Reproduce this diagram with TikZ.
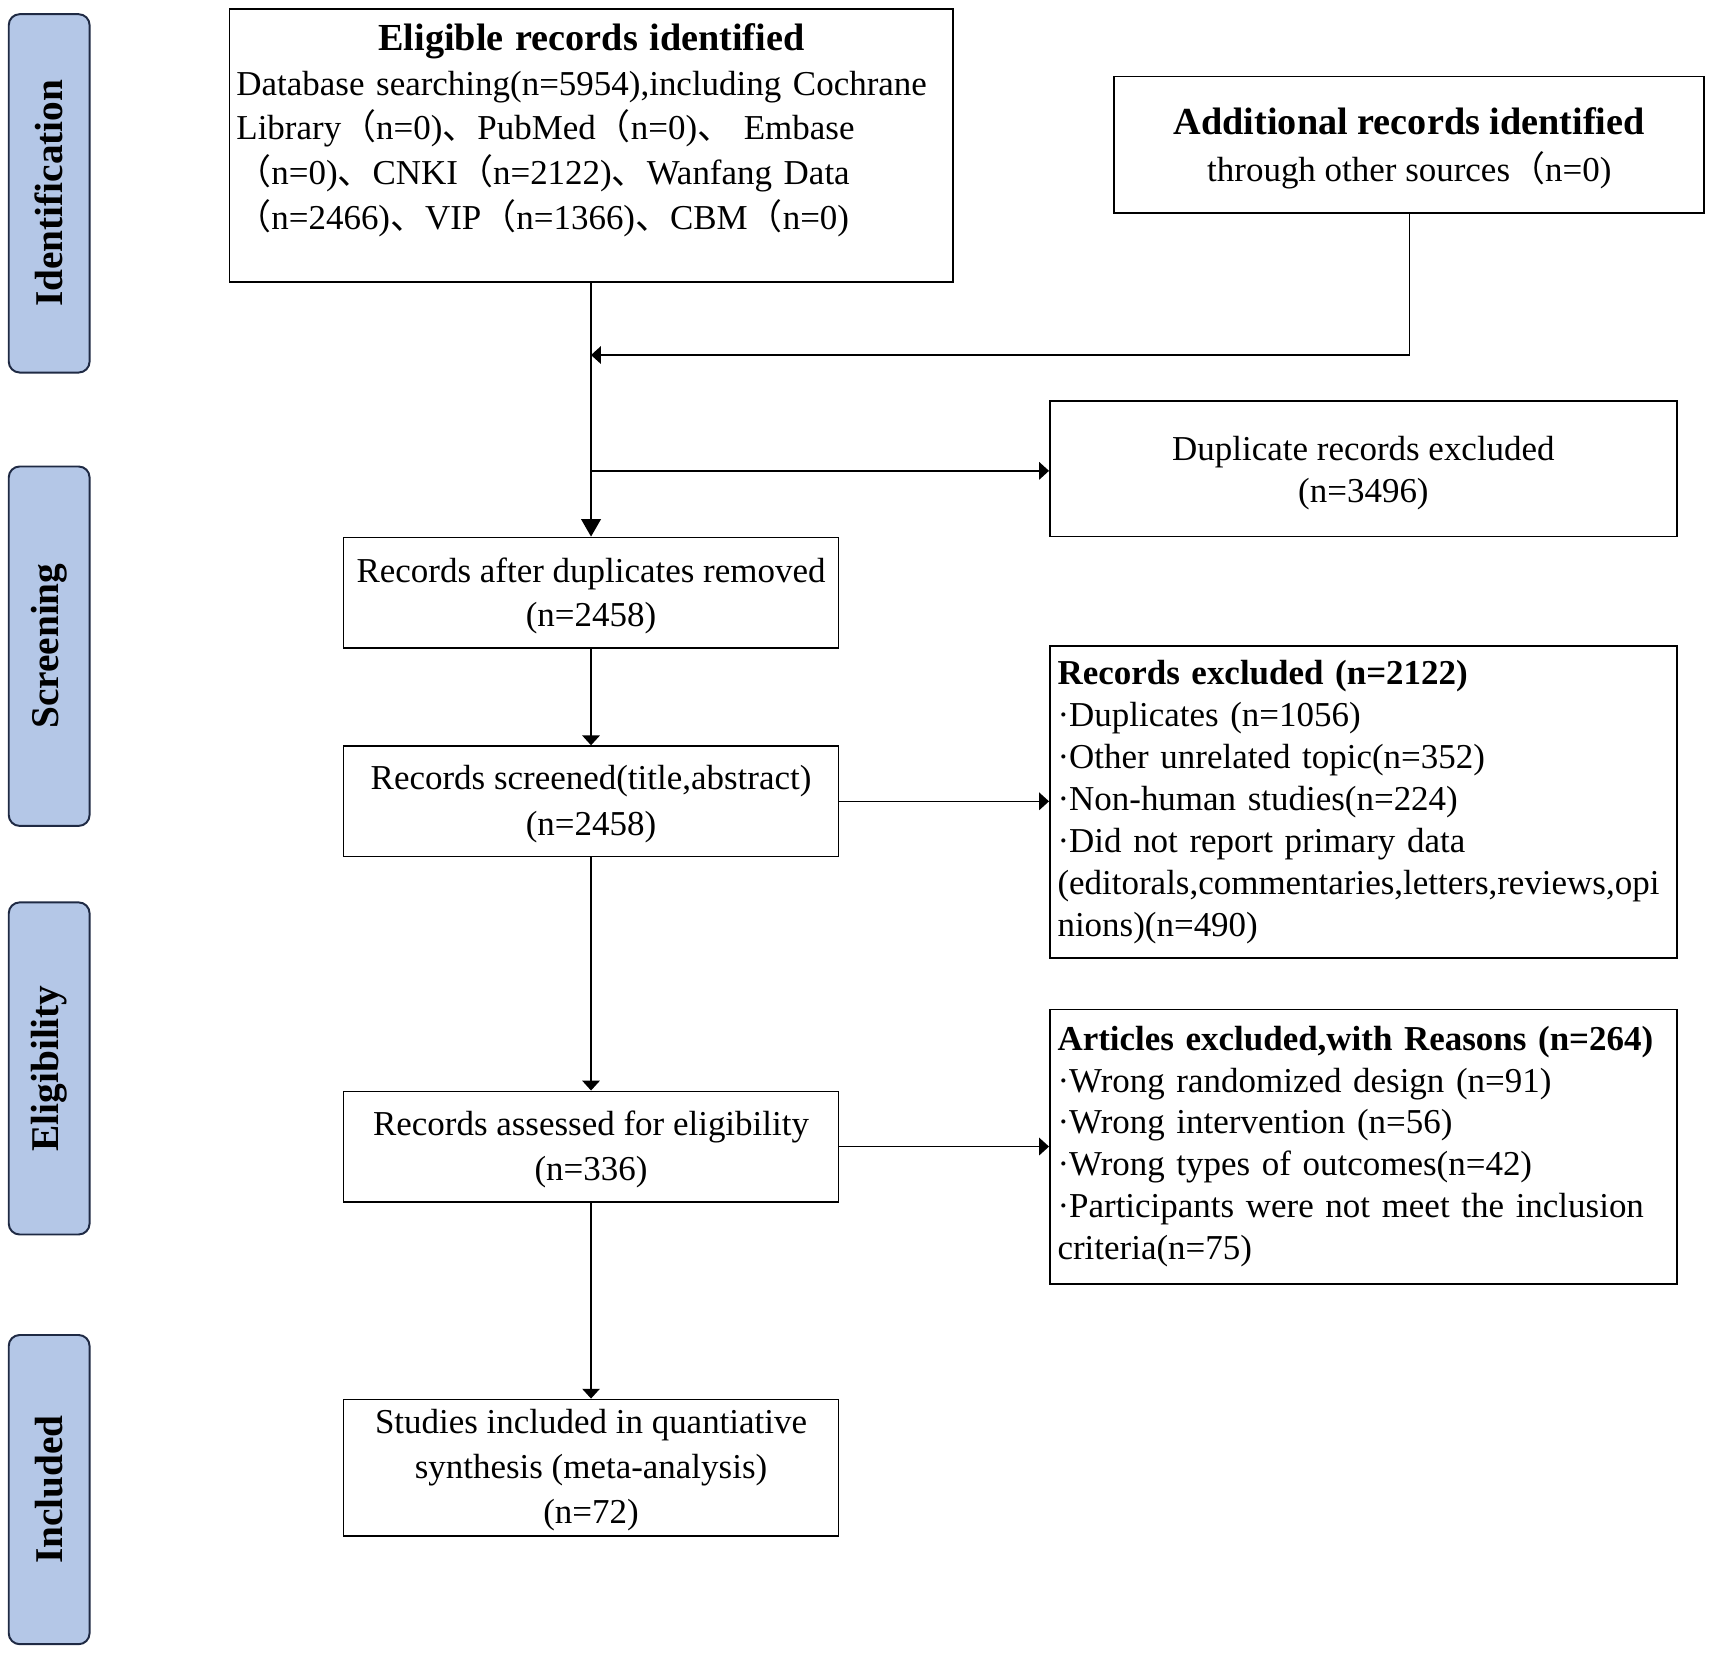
\documentclass[tikz,border=0pt]{standalone}
\usepackage{fontspec}
\setmainfont{Liberation Serif}
\newfontfamily\cjk{Noto Sans CJK SC}
\usetikzlibrary{arrows.meta}
\definecolor{stagefill}{HTML}{B4C7E7}
\definecolor{stageline}{HTML}{1F2A44}
\newcommand{\fwp}{{\cjk （}}
\newcommand{\ideo}{{\cjk 、}}
\newcommand{\titlefont}{\fontsize{17.5}{21}\selectfont\bfseries}
\newcommand{\lift}[1]{\rule{0pt}{#1}}
\begin{document}
\begin{tikzpicture}[x=0.5pt,y=-0.5pt,
  box/.style={draw=black, line width=0.8pt, inner sep=0pt, align=center},
  stage/.style={draw=stageline, fill=stagefill, rounded corners=5pt, line width=0.9pt,
    inner sep=0pt, rotate=90, font=\fontsize{18}{20}\selectfont\bfseries},
  arrow/.style={-{Triangle[length=4.5pt,width=8pt]}, line width=0.7pt}]
\useasboundingbox (0,0) rectangle (1568,1513);

% stage labels
\node[stage, minimum width=164pt, minimum height=37pt] (S1) at (45,177) {Identification};
\node[stage, minimum width=164.5pt, minimum height=37pt] (S2) at (45,591.5) {Screening};
\node[stage, minimum width=152pt, minimum height=37pt] (S3) at (45,978) {Eligibility};
\node[stage, minimum width=141.5pt, minimum height=37pt] (S4) at (45,1363.5) {Included};

% boxes
\node[box, minimum width=331pt, minimum height=125pt] (A) at (541,133) {};
\node[anchor=north west, inner sep=0pt, text width=325pt, align=left,
  font=\fontsize{16}{20.5}\selectfont] (Atext) at (216,21)
  {\makebox[\linewidth][c]{\titlefont Eligible records identified}\\
   Database searching(n=5954),including Cochrane\\
   Library\fwp n=0)\ideo PubMed\fwp n=0)\ideo{} Embase\\
   \fwp n=0)\ideo CNKI\fwp n=2122)\ideo Wanfang Data\\
   \fwp n=2466)\ideo VIP\fwp n=1366)\ideo CBM\fwp n=0)};

\node[box, minimum width=270pt, minimum height=62.5pt, font=\fontsize{16}{21.5}\selectfont]
  (B) at (1290,132.5) {\lift{15.5pt}{\titlefont Additional records identified}\\ through other sources\fwp n=0)};

\node[box, minimum width=287pt, minimum height=62pt, font=\fontsize{16}{19.5}\selectfont]
  (D) at (1248,429) {\lift{15pt}Duplicate records excluded\\(n=3496)};

\node[box, minimum width=226.5pt, minimum height=50.5pt, font=\fontsize{16}{20}\selectfont]
  (C) at (541,542.5) {\lift{14pt}Records after duplicates removed\\(n=2458)};

\node[box, minimum width=226.5pt, minimum height=50.5pt, font=\fontsize{16}{21}\selectfont]
  (E) at (541,733.5) {\lift{14pt}Records screened(title,abstract)\\(n=2458)};

\node[box, minimum width=287pt, minimum height=143pt, text width=280pt, align=left,
  font=\fontsize{16}{19.25}\selectfont] (F) at (1248,734)
  {\textbf{Records excluded (n=2122)}\\
   ·Duplicates (n=1056)\\
   ·Other unrelated topic(n=352)\\
   ·Non-human studies(n=224)\\
   ·Did not report primary data\\
   (editorals,commentaries,letters,reviews,opi\\
   nions)(n=490)};

\node[box, minimum width=226.5pt, minimum height=50.5pt, font=\fontsize{16}{20.5}\selectfont]
  (G) at (541,1049.5) {\lift{14pt}Records assessed for eligibility\\(n=336)};

\node[box, minimum width=287pt, minimum height=125.5pt, text width=280pt, align=left,
  font=\fontsize{16}{19.2}\selectfont] (H) at (1248,1049.5)
  {\textbf{Articles excluded,with Reasons (n=264)}\\
   ·Wrong randomized design (n=91)\\
   ·Wrong intervention (n=56)\\
   ·Wrong types of outcomes(n=42)\\
   ·Participants were not meet the inclusion\\
   criteria(n=75)};

\node[box, minimum width=226.5pt, minimum height=62.5pt, font=\fontsize{16}{20.5}\selectfont]
  (I) at (541,1343.5) {\lift{13pt}Studies included in quantiative\\synthesis (meta-analysis)\\(n=72)};

% connectors
\coordinate (j1) at (541,325);
\coordinate (j2) at (541,431);
\draw[line width=0.7pt, -{Triangle[length=8pt,width=9pt]}] (A.south) -- (C.north);
\draw[arrow] (B.south) |- (j1);
\draw[arrow] (j2) -- (D.west |- j2);
\draw[arrow] (C.south) -- (E.north);
\draw[arrow] (E.east) -- (E.east -| F.west);
\draw[arrow] (E.south) -- (G.north);
\draw[arrow] (G.east) -- (G.east -| H.west);
\draw[arrow] (G.south) -- (I.north);
\end{tikzpicture}
\end{document}
